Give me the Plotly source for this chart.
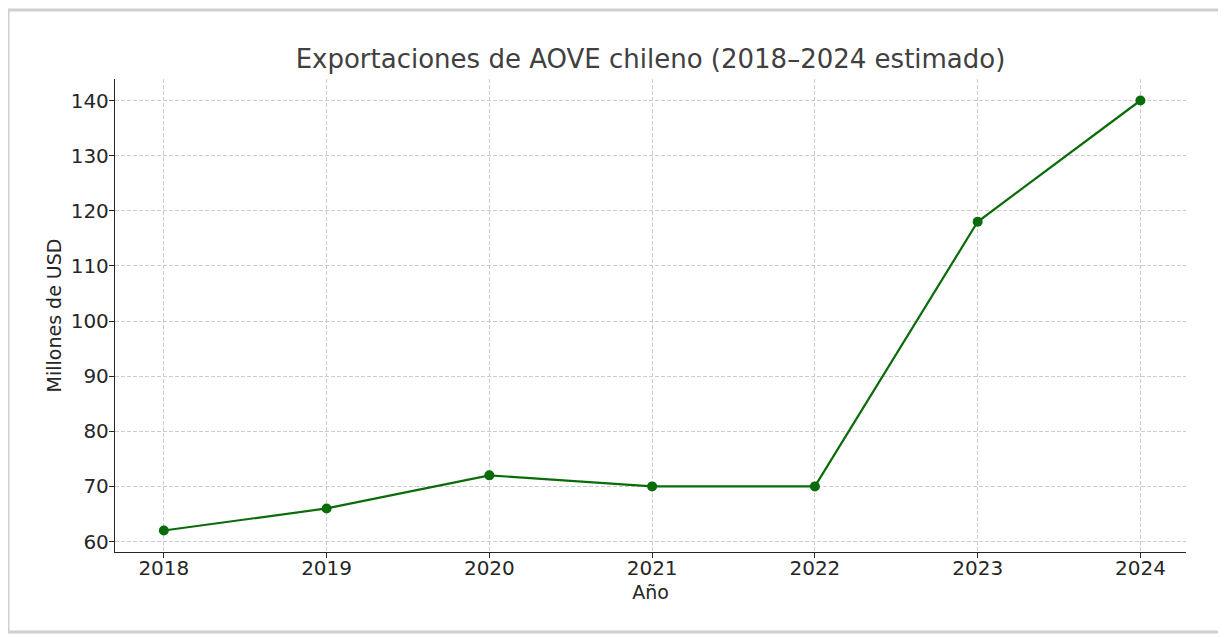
import plotly.graph_objects as go

years = [2018, 2019, 2020, 2021, 2022, 2023, 2024]
exports_musd = [62, 66, 72, 70, 70, 118, 140]

title = "Exportaciones de AOVE chileno (2018–2024 estimado)"
x_title = "Año"
y_title = "Millones de USD"

font_family = "DejaVu Sans, Arial, sans-serif"
line_color = "#0a6b0a"

fig = go.Figure()

fig.add_trace(go.Scatter(
    x=years,
    y=exports_musd,
    mode="lines+markers",
    line=dict(color=line_color, width=2.2),
    marker=dict(color=line_color, size=10),
    showlegend=False
))

# light frame around the figure, like the screenshot
fig.add_shape(
    type="rect",
    xref="paper", yref="paper",
    x0=-0.0999, x1=1.0336, y0=-0.169, y1=1.1459,
    line=dict(color="#cfcfcf", width=3),
    layer="below"
)

fig.update_layout(
    width=1226,
    height=637,
    paper_bgcolor="white",
    plot_bgcolor="white",
    margin=dict(l=107, r=48, t=71, b=93),
    font=dict(family=font_family, color="#262626", size=20),
    title=dict(
        text=title,
        x=0.5, xref="paper", xanchor="center",
        y=0.92, yanchor="middle",
        font=dict(size=26, color="#404040")
    ),
)

fig.update_xaxes(
    title=dict(text=x_title, font=dict(size=19), standoff=6),
    range=[2017.7, 2024.28],
    tickmode="array",
    tickvals=years,
    ticktext=[str(y) for y in years],
    ticklabelstandoff=-7,
    showline=True, linecolor="#262626", linewidth=1.3,
    ticks="outside", ticklen=5, tickcolor="#262626",
    showgrid=True, gridcolor="#cccccc", griddash="4px,2px", gridwidth=1,
    zeroline=False,
)

fig.update_yaxes(
    title=dict(text=y_title, font=dict(size=19), standoff=4),
    range=[58.1, 143.9],
    tickmode="array",
    tickvals=[60, 70, 80, 90, 100, 110, 120, 130, 140],
    ticklabelstandoff=-4,
    showline=True, linecolor="#262626", linewidth=1.3,
    ticks="outside", ticklen=5, tickcolor="#262626",
    showgrid=True, gridcolor="#cccccc", griddash="4px,2px", gridwidth=1,
    zeroline=False,
)

fig.write_html("out.html")
